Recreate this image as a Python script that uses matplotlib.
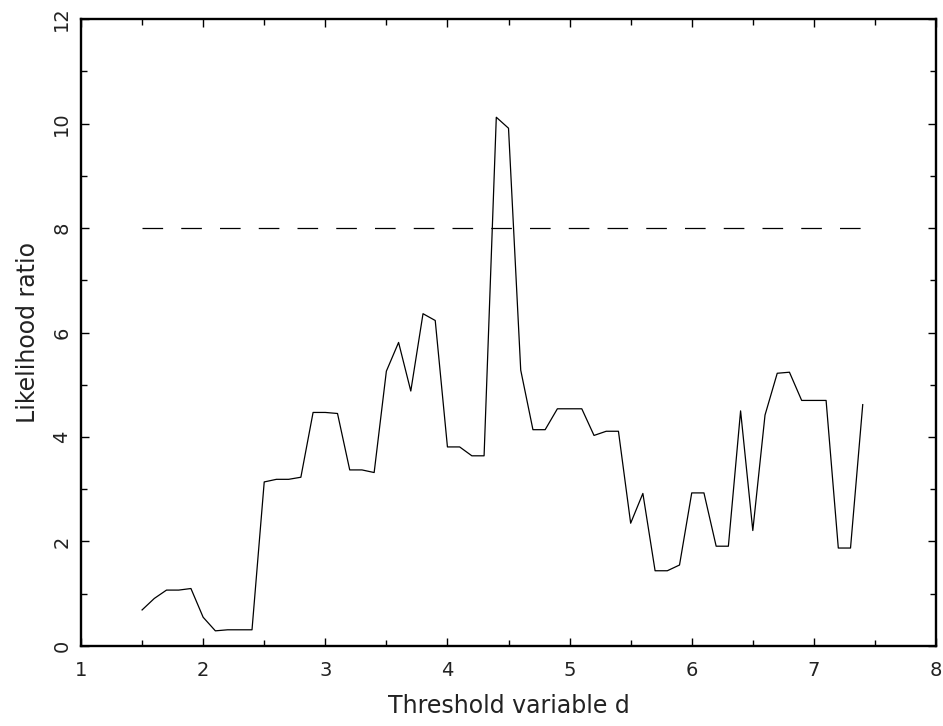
import numpy as np
import matplotlib
matplotlib.use("Agg")
import matplotlib.pyplot as plt
from matplotlib.ticker import MultipleLocator

# threshold variable d and likelihood ratio
d = [1.5, 1.6, 1.7, 1.8, 1.9, 2.0, 2.1, 2.2, 2.3, 2.4,
     2.5, 2.6, 2.7, 2.8, 2.9, 3.0, 3.1, 3.2, 3.3, 3.4,
     3.5, 3.6, 3.7, 3.8, 3.9, 4.0, 4.1, 4.2, 4.3, 4.4,
     4.5, 4.6, 4.7, 4.8, 4.9, 5.0, 5.1, 5.2, 5.3, 5.4,
     5.5, 5.6, 5.7, 5.8, 5.9, 6.0, 6.1, 6.2, 6.3, 6.4,
     6.5, 6.6, 6.7, 6.8, 6.9, 7.0, 7.1, 7.2, 7.3, 7.4]
ratio = [0.69, 0.91, 1.07, 1.07, 1.10, 0.55, 0.29, 0.31, 0.31, 0.31,
         3.14, 3.19, 3.19, 3.23, 4.47, 4.47, 4.45, 3.37, 3.37, 3.32,
         5.26, 5.81, 4.88, 6.36, 6.23, 3.81, 3.81, 3.64, 3.64, 10.12,
         9.91, 5.28, 4.14, 4.14, 4.54, 4.54, 4.54, 4.03, 4.11, 4.11,
         2.35, 2.92, 1.44, 1.44, 1.55, 2.93, 2.93, 1.91, 1.91, 4.50,
         2.21, 4.42, 5.22, 5.24, 4.70, 4.70, 4.70, 1.875, 1.875, 4.62]
threshold = 8.0

plt.rcParams['font.family'] = ['DejaVu Sans']

fig = plt.figure(figsize=(9.43, 7.26), dpi=100)
ax = fig.add_axes([0.0859, 0.1102, 0.9067, 0.8636])

lw = 0.9
ax.plot(d, ratio, color='black', linewidth=lw)
# dash ~20px on, ~18px off
ax.plot([d[0], d[-1]], [threshold, threshold], color='black', linewidth=lw,
        dashes=(16.5, 14.5))

ax.set_xlim(1, 8)
ax.set_ylim(0, 12)
ax.xaxis.set_major_locator(MultipleLocator(1))
ax.xaxis.set_minor_locator(MultipleLocator(0.5))
ax.yaxis.set_major_locator(MultipleLocator(2))
ax.yaxis.set_minor_locator(MultipleLocator(1))

ax.tick_params(which='both', direction='in', top=True, right=True,
               width=1.0, labelsize=14, colors='black')
ax.tick_params(which='major', length=5.5)
ax.tick_params(which='minor', length=4)
ax.tick_params(axis='x', pad=11)
ax.tick_params(axis='y', pad=7)
for lbl in ax.get_yticklabels():
    lbl.set_rotation(90)
    lbl.set_va('center')
    lbl.set_color('#222222')
for lbl in ax.get_xticklabels():
    lbl.set_color('#222222')

for s in ax.spines.values():
    s.set_linewidth(1.7)

ax.set_xlabel('Threshold variable d', fontsize=17, labelpad=10, color='#222222')
ax.set_ylabel('Likelihood ratio', fontsize=17, labelpad=9, color='#222222')

fig.savefig('out.png', dpi=100)
